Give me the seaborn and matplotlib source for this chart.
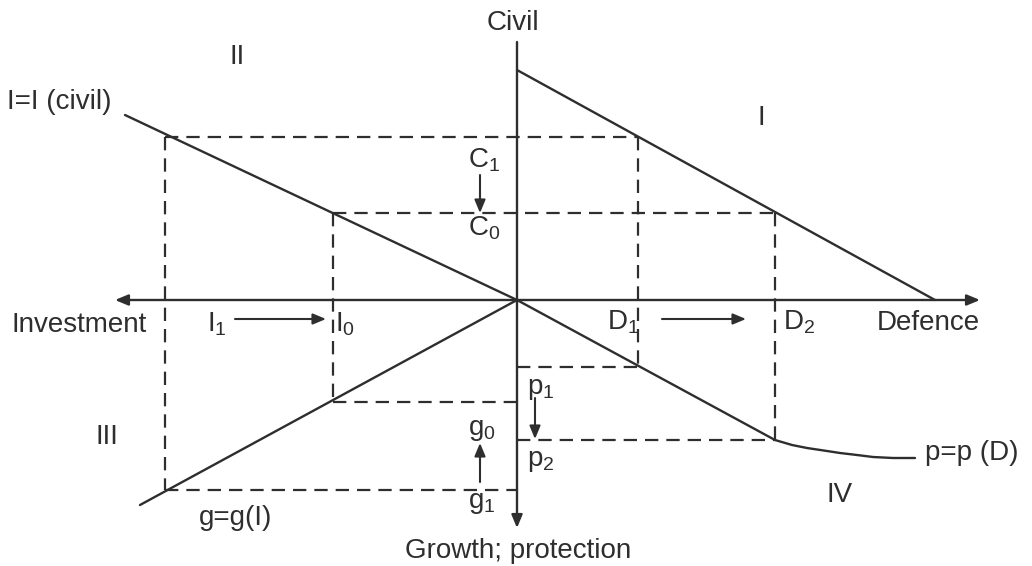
import matplotlib
matplotlib.use("Agg")
import matplotlib.pyplot as plt
import numpy as np
import seaborn as sns

# ── Diagram data (origin at the crossing of the two axes) ─────────────────
# policy levels
I1, I0 = -352, -184        # investment
D1, D2 = 121, 258          # defence
C1, C0 = 163, 87           # civil spending
p1, p2 = -67, -140         # protection
g0, g1 = -102, -190        # growth

# quadrant I: civil vs defence trade-off
civil_x = [0, 418]
civil_y = [230, 0]
# quadrant II: I = I(civil)
invest_x = [-392, 0]
invest_y = [185, 0]
# quadrant III: g = g(I)
growth_x = [0, -377]
growth_y = [0, -205]
# quadrant IV: p = p(D)
prot_x = [0, 258, 275, 290, 310, 323, 340, 356, 376, 398]
prot_y = [0, -140, -145, -148, -151, -153, -155, -157, -158, -158]

INK = "#2e2e2e"
FONT = "Liberation Sans"

sns.set_theme(style="white")
plt.rcParams["font.family"] = [FONT, "DejaVu Sans"]
plt.rcParams["mathtext.fontset"] = "custom"
plt.rcParams["mathtext.rm"] = FONT
plt.rcParams["mathtext.it"] = FONT

fig = plt.figure(figsize=(10.32, 5.66), dpi=100)
ax = fig.add_axes([0, 0, 1, 1])
ax.set_xlim(-517, 515)
ax.set_ylim(-266, 300)
ax.axis("off")

# ── Solid curves ───────────────────────────────────────────────────────────
for xs, ys in [(civil_x, civil_y), (invest_x, invest_y),
               (growth_x, growth_y), (prot_x, prot_y)]:
    sns.lineplot(x=xs, y=ys, sort=False, estimator=None, ax=ax,
                 color=INK, lw=1.7)

# ── Dashed guide lines ────────────────────────────────────────────────────
dash = dict(color=INK, lw=1.6, linestyle=(0, (6, 3.6)))
ax.plot([I1, D1], [C1, C1], **dash)
ax.plot([I0, D2], [C0, C0], **dash)
ax.plot([I1, I1], [C1, g1], **dash)
ax.plot([I0, I0], [C0, g0], **dash)
ax.plot([D1, D1], [C1, p1], **dash)
ax.plot([D2, D2], [C0, p2], **dash)
ax.plot([I0, 0], [g0, g0], **dash)
ax.plot([I1, 0], [g1, g1], **dash)
ax.plot([0, D1], [p1, p1], **dash)
ax.plot([0, D2], [p2, p2], **dash)

# ── Axes arrows ───────────────────────────────────────────────────────────
def arrow(x0, y0, x1, y1, style="-|>", lw=1.5, scale=13):
    ax.annotate("", xy=(x1, y1), xytext=(x0, y0),
                arrowprops=dict(arrowstyle=f"{style},head_length=0.6,head_width=0.25",
                                color=INK, lw=lw, mutation_scale=scale,
                                shrinkA=0, shrinkB=0))

arrow(-402, 0, 463, 0, style="<|-|>", lw=1.7)
arrow(0, 258, 0, -228, lw=1.7)

# shift arrows
arrow(-282, -19, -191, -19)
arrow(145, -19, 229, -19)
arrow(-37, 125, -37, 87)
arrow(18, -98, 18, -139)
arrow(-37, -182, -37, -143)

# ── Labels ────────────────────────────────────────────────────────────────
fs = 20
def label(x, y, s, ha="left", va="baseline", size=fs):
    ax.text(x, y, s, ha=ha, va=va, fontsize=size, color=INK)

r = r"$\mathregular{%s_%s}$"
label(-4, 277, "Civil", ha="center", va="center")
label(-280, 243, "II", ha="center", va="center")
label(244, 182, "I", ha="center", va="center")
label(-410, -137, "III", ha="center", va="center")
label(323, -195, "IV", ha="center", va="center")
label(-510, 198, "I=I (civil)", va="center")
label(-318, -218, "g=g(I)", va="center")
label(408, -153, "p=p (D)", va="center")
label(-505, -32, "Investment")
label(360, -30, "Defence")
label(1, -258, "Growth; protection", ha="center")

label(-310, -32, r % ("I", "1"))
label(-182, -32, r % ("I", "0"))
label(90, -30, r % ("D", "1"))
label(266, -30, r % ("D", "2"))
label(-49, 133, r % ("C", "1"))
label(-49, 65, r % ("C", "0"))
label(10, -94, r % ("p", "1"))
label(10, -166, r % ("p", "2"))
label(-49, -135, r % ("g", "0"))
label(-49, -208, r % ("g", "1"))

fig.savefig("out.png", dpi=100, facecolor="white")
